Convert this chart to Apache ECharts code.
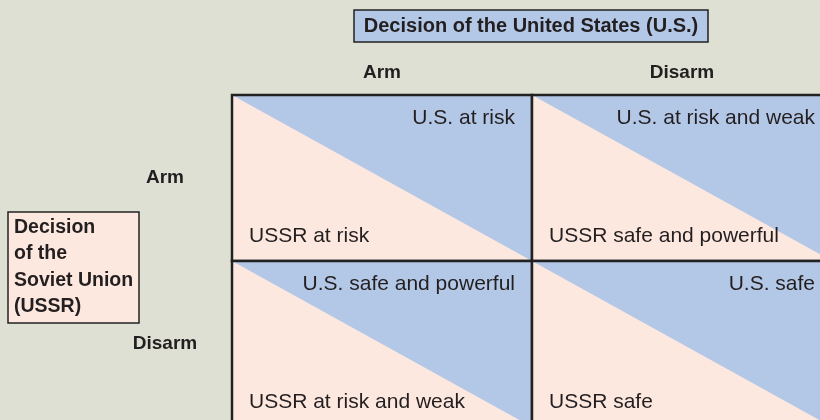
<!DOCTYPE html>
<html>
<head>
<meta charset="utf-8">
<script src="https://cdn.jsdelivr.net/npm/echarts@6/dist/echarts.min.js"></script>
<style>html,body{margin:0;padding:0;background:#dde0d3;}#chart{width:820px;height:420px;}</style>
</head>
<body>
<div id="chart"></div>
<script>
// ---- data ----
const usDecisions = ['Arm', 'Disarm'];
const ussrDecisions = ['Arm', 'Disarm'];
// outcomes indexed [ussrRow][usCol]
const usOutcomes = [
  ['U.S. at risk', 'U.S. at risk and weak'],
  ['U.S. safe and powerful', 'U.S. safe']
];
const ussrOutcomes = [
  ['USSR at risk', 'USSR safe and powerful'],
  ['USSR at risk and weak', 'USSR safe']
];
const usTitle = 'Decision of the United States (U.S.)';
const ussrTitleLines = ['Decision', 'of the', 'Soviet Union', '(USSR)'];

// ---- styles ----
const BG = '#dde0d3';
const BLUE = '#b3c7e6';
const PINK = '#fde8df';
const INK = '#231f20';
const FONT = '"Liberation Sans", Arial, sans-serif';

const cells = [];
ussrDecisions.forEach((r, ri) => {
  usDecisions.forEach((c, ci) => {
    cells.push([ci, ri, usOutcomes[ri][ci], ussrOutcomes[ri][ci]]);
  });
});

const chart = echarts.init(document.getElementById('chart'));
chart.setOption({
  backgroundColor: BG,
  animation: false,
  grid: { left: 232, top: 95, width: 600, height: 332, outerBoundsMode: 'none', containLabel: false },
  xAxis: {
    type: 'category', position: 'top', data: usDecisions,
    axisLine: { show: false }, axisTick: { show: false }, splitLine: { show: false },
    axisLabel: { margin: 22, verticalAlign: 'middle', color: INK, fontWeight: 'bold', fontSize: 19, fontFamily: FONT }
  },
  yAxis: {
    type: 'category', inverse: true, data: ussrDecisions,
    axisLine: { show: false }, axisTick: { show: false }, splitLine: { show: false },
    axisLabel: { margin: 67, align: 'center', color: INK, fontWeight: 'bold', fontSize: 19, fontFamily: FONT }
  },
  series: [{
    type: 'custom',
    clip: false,
    data: cells,
    renderItem: function (params, api) {
      const c = api.coord([api.value(0), api.value(1)]);
      const s = api.size([1, 1]);
      const x0 = c[0] - s[0] / 2, y0 = c[1] - s[1] / 2;
      const x1 = x0 + s[0], y1 = y0 + s[1];
      const d = cells[params.dataIndex];
      return {
        type: 'group',
        children: [
          { type: 'rect', shape: { x: x0, y: y0, width: s[0], height: s[1] }, style: { fill: PINK } },
          { type: 'polygon', shape: { points: [[x0, y0], [x1, y0], [x1, y1]] }, style: { fill: BLUE } },
          { type: 'rect', shape: { x: x0, y: y0, width: s[0], height: s[1] }, style: { fill: null, stroke: '#222', lineWidth: 2.5 } },
          { type: 'text', x: x1 - 17, y: y0 + 23, style: { text: d[2], align: 'right', verticalAlign: 'middle', fill: INK, fontSize: 21, fontFamily: FONT } },
          { type: 'text', x: x0 + 17, y: y1 - 25, style: { text: d[3], align: 'left', verticalAlign: 'middle', fill: INK, fontSize: 21, fontFamily: FONT } }
        ]
      };
    }
  }],
  graphic: [
    { type: 'rect', shape: { x: 354, y: 10, width: 354, height: 32 }, style: { fill: BLUE, stroke: '#222', lineWidth: 1.5 } },
    { type: 'text', x: 531, y: 26, style: { text: usTitle, align: 'center', verticalAlign: 'middle', fill: INK, fontWeight: 'bold', fontSize: 20, fontFamily: FONT } },
    { type: 'rect', shape: { x: 8, y: 212, width: 131, height: 111 }, style: { fill: PINK, stroke: '#222', lineWidth: 1.5 } },
    { type: 'text', x: 14, y: 214, style: { text: ussrTitleLines.join('\n'), align: 'left', verticalAlign: 'top', lineHeight: 26.5, fill: INK, fontWeight: 'bold', fontSize: 19.5, fontFamily: FONT } }
  ]
});
</script>
</body>
</html>
